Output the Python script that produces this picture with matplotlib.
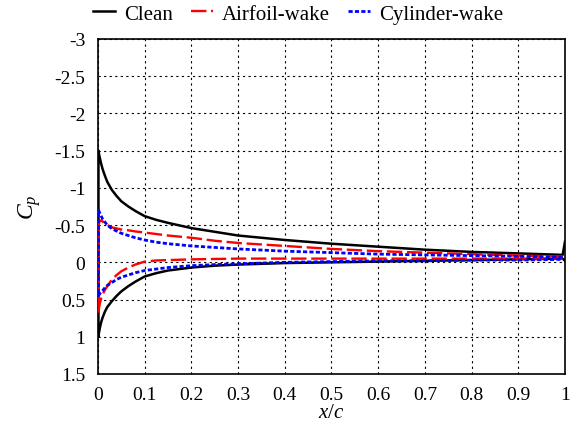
import numpy as np
import matplotlib
matplotlib.use("Agg")
import matplotlib.pyplot as plt

# surface stations (x/c)
x_st = [0.001, 0.002, 0.004, 0.007, 0.01, 0.015, 0.02, 0.03, 0.04, 0.05, 0.065,
        0.08, 0.1, 0.125, 0.15, 0.2, 0.25, 0.3, 0.4, 0.5, 0.6, 0.7, 0.8, 0.9, 0.995]

clean_up = [-1.50, -1.46, -1.40, -1.32, -1.25, -1.16, -1.08, -0.97, -0.89, -0.82, -0.75,
            -0.69, -0.62, -0.57, -0.53, -0.46, -0.41, -0.36, -0.30, -0.25, -0.21, -0.17,
            -0.14, -0.12, -0.10]
clean_lo = [1.00, 0.95, 0.88, 0.80, 0.74, 0.66, 0.60, 0.52, 0.45, 0.39, 0.32,
            0.26, 0.19, 0.145, 0.11, 0.07, 0.045, 0.03, 0.01, 0.00, -0.01, -0.02,
            -0.03, -0.04, -0.05]

airf_up = [-0.40, -0.52, -0.56, -0.56, -0.55, -0.52, -0.50, -0.47, -0.455, -0.44, -0.43,
           -0.415, -0.40, -0.38, -0.36, -0.33, -0.29, -0.26, -0.22, -0.18, -0.15, -0.13,
           -0.11, -0.09, -0.08]
airf_lo = [0.70, 0.62, 0.55, 0.48, 0.43, 0.37, 0.32, 0.23, 0.17, 0.12, 0.07,
           0.03, -0.01, -0.025, -0.03, -0.04, -0.045, -0.05, -0.05, -0.05, -0.05, -0.05,
           -0.05, -0.05, -0.05]

cyl_up = [-0.70, -0.69, -0.66, -0.62, -0.58, -0.54, -0.50, -0.45, -0.42, -0.39, -0.36,
          -0.33, -0.30, -0.27, -0.25, -0.22, -0.20, -0.18, -0.15, -0.13, -0.11, -0.10,
          -0.09, -0.08, -0.07]
cyl_lo = [0.45, 0.44, 0.42, 0.40, 0.38, 0.34, 0.31, 0.27, 0.23, 0.20, 0.17,
          0.14, 0.11, 0.09, 0.07, 0.045, 0.03, 0.02, 0.00, -0.01, -0.02, -0.02,
          -0.03, -0.03, -0.04]

# trailing edge closure of the clean case
clean_te = [-0.28, -0.02]

x_ticks = [0, 0.1, 0.2, 0.3, 0.4, 0.5, 0.6, 0.7, 0.8, 0.9, 1]
y_ticks = [-3, -2.5, -2, -1.5, -1, -0.5, 0, 0.5, 1, 1.5]


def around(up, lo, te=None):
    xu = list(x_st)[::-1]
    yu = list(up)[::-1]
    xl = list(x_st)
    yl = list(lo)
    if te is not None:
        xu = [1.0] + xu
        yu = [te[0]] + yu
        xl = xl + [1.0]
        yl = yl + [te[1]]
    return np.array(xu + xl), np.array(yu + yl)


plt.rcParams["font.family"] = ["Liberation Serif", "DejaVu Serif"]
plt.rcParams["mathtext.fontset"] = "custom"
plt.rcParams["mathtext.rm"] = "Liberation Serif"
plt.rcParams["mathtext.it"] = "Liberation Serif:italic"

fig = plt.figure(figsize=(5.71, 4.39), dpi=100)
ax = fig.add_axes([0.1716, 0.1458, 0.8179, 0.7631])

x, y = around(clean_up, clean_lo, clean_te)
ax.plot(x, y, color="black", lw=1.8, label="Clean", zorder=3)
x, y = around(airf_up, airf_lo)
ax.plot(x, y, color="red", lw=1.7, dashes=(6.5, 2), label="Airfoil-wake", zorder=4)
x, y = around(cyl_up, cyl_lo)
ax.plot(x, y, color="blue", lw=2.0, dashes=(1.5, 0.8), label="Cylinder-wake", zorder=5)

ax.set_xlim(0, 1)
ax.set_ylim(1.5, -3)
ax.set_xticks(x_ticks)
ax.set_xticklabels([f"{t:g}" for t in x_ticks])
ax.set_yticks(y_ticks)
ax.set_yticklabels([f"{t:g}" for t in y_ticks])
ax.tick_params(length=0, labelsize=14, pad=9)
ax.grid(True, color="black", lw=0.8, linestyle=(0, (2, 3)), zorder=1)
for s in ax.spines.values():
    s.set_linewidth(1.2)

ax.set_xlabel("$x/c$", fontsize=15, labelpad=0)
ax.set_ylabel("$C_p$", fontsize=17, labelpad=8)

fig.legend(loc="center", bbox_to_anchor=(0.522, 0.966), ncol=3, frameon=False,
           fontsize=15, handlelength=1.05, handletextpad=0.45, columnspacing=0.85,
           borderpad=0.1)

fig.savefig("out.png", dpi=100)
